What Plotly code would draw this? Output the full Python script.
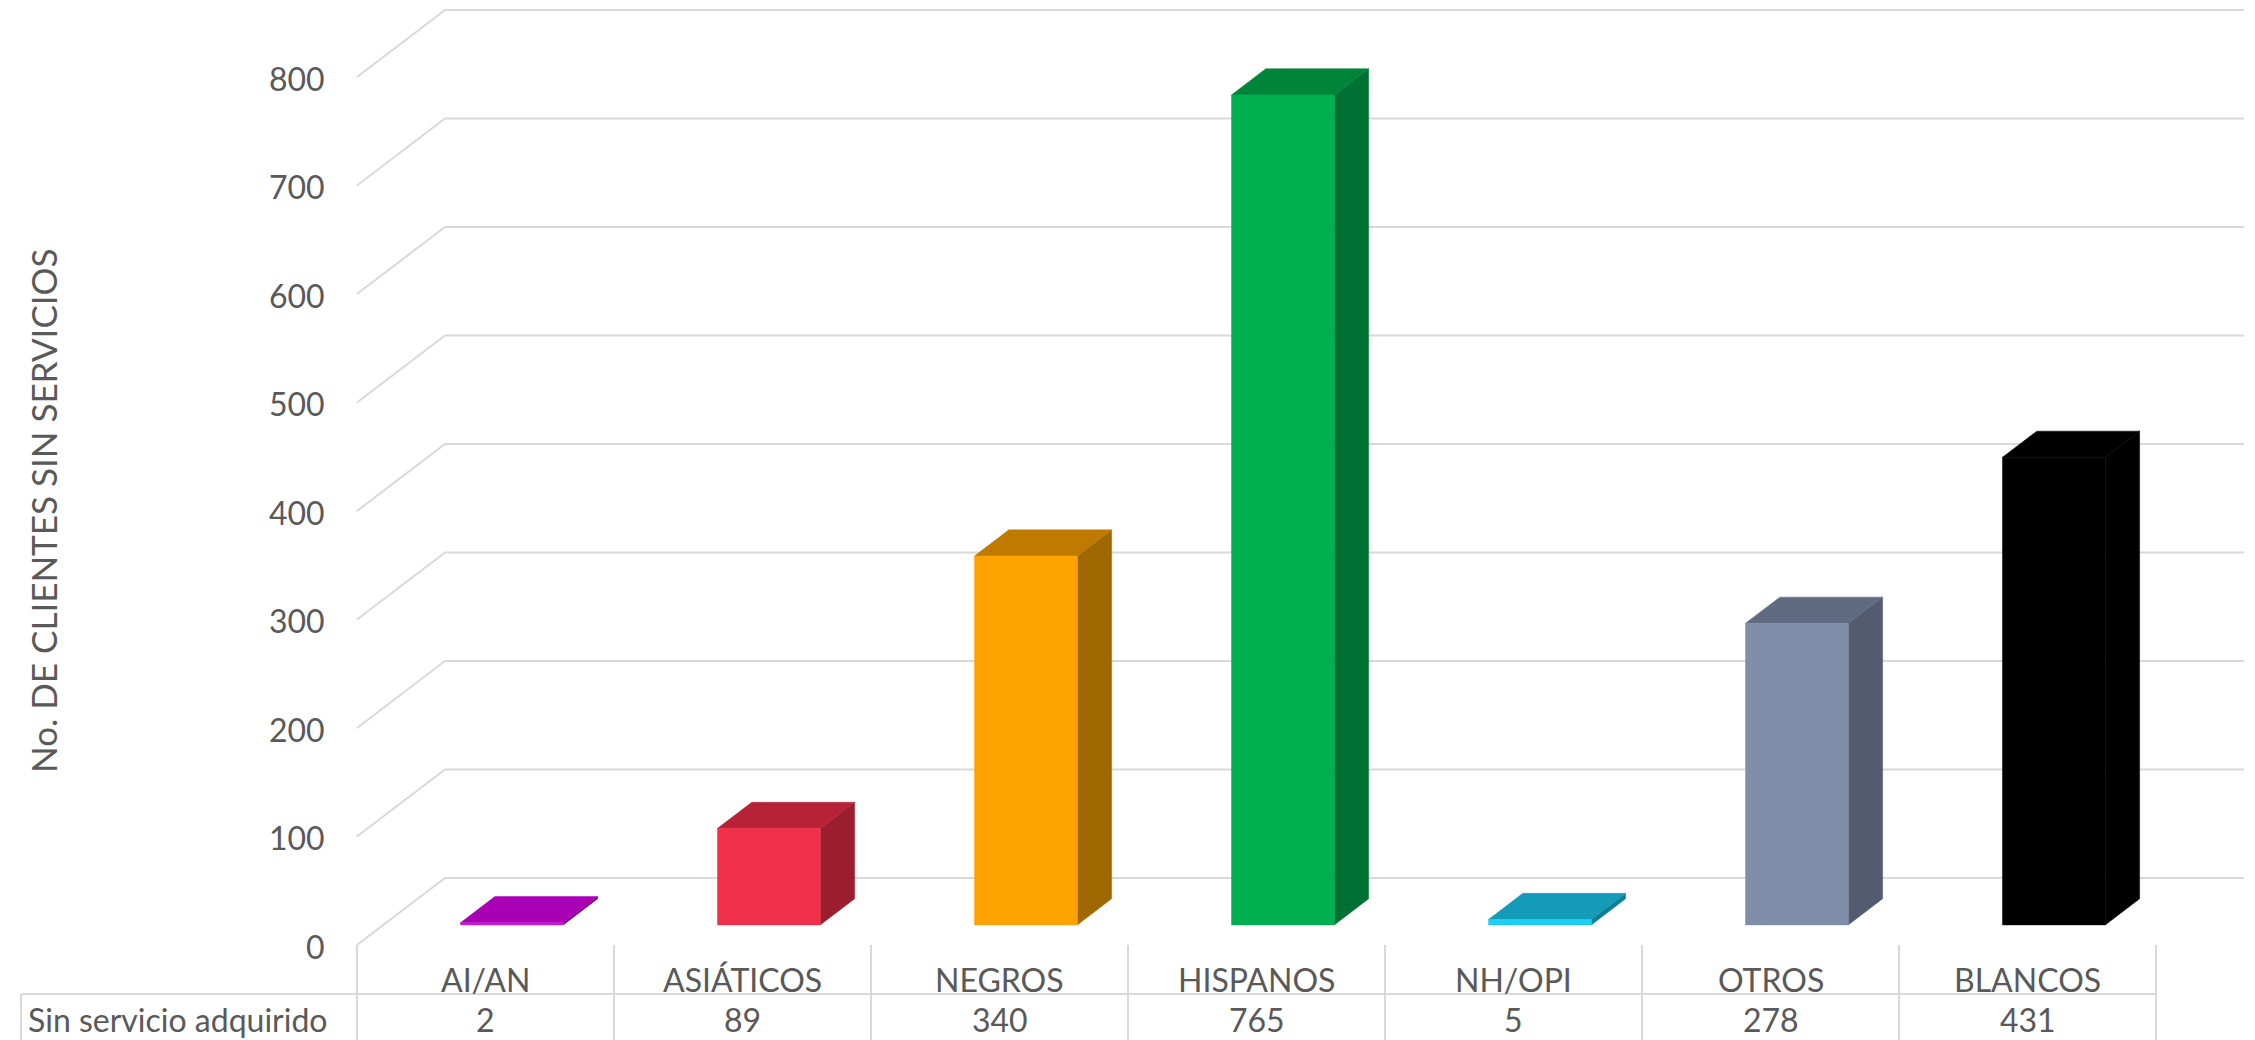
import plotly.graph_objects as go

# ---------------- data ----------------
categories = ["AI/AN", "ASIÁTICOS", "NEGROS", "HISPANOS", "NH/OPI", "OTROS", "BLANCOS"]
values = [2, 89, 340, 765, 5, 278, 431]
series_name = "Sin servicio adquirido"
y_ticks = [0, 100, 200, 300, 400, 500, 600, 700, 800]
y_title = "No. DE CLIENTES SIN SERVICIOS"
front_colors = ["#C21ED0", "#F0304A", "#FFA300", "#00B050", "#1DCFF0", "#7F8FA9", "#000000"]
top_colors = ["#AA00B5", "#B72236", "#C07A00", "#00843A", "#139BB8", "#5F6B80", "#000000"]
side_colors = ["#7A0082", "#9A1E2E", "#A06800", "#007033", "#0E7E95", "#525C6E", "#000000"]

# ---------------- geometry (data units) ----------------
W, H = 2255, 1040
PX_CAT = 257.0          # pixels per category
PX_UNIT = 1.085         # pixels per value unit
X0_PIX = 357.0          # pixel of left edge of category 0
Y0_PIX = 945.0          # pixel (from top) of value 0 at the front
DX = 88.0 / PX_CAT      # depth offset in category units
DY = 67.0 / PX_UNIT     # depth offset in value units
BAR_W = 0.40
D1, D2 = 0.30, 0.69

x_lo = -0.5 - X0_PIX / PX_CAT
x_hi = x_lo + W / PX_CAT
y_hi = Y0_PIX / PX_UNIT
y_lo = -(H - Y0_PIX) / PX_UNIT
n = len(categories)

GRID = "#D9D9D9"
TXT = "#595959"
FONT = "Lato"

def px_to_y(p):
    return (Y0_PIX - p) / PX_UNIT

def px_to_x(p):
    return (p - X0_PIX) / PX_CAT - 0.5

fig = go.Figure()

def line(xs, ys, color=GRID, width=2):
    fig.add_trace(go.Scatter(x=xs, y=ys, mode="lines", line=dict(color=color, width=width),
                             hoverinfo="skip", showlegend=False))

def poly(xs, ys, color):
    fig.add_trace(go.Scatter(x=xs + [xs[0]], y=ys + [ys[0]], mode="lines", fill="toself",
                             fillcolor=color, line=dict(color=color, width=0.5),
                             hoverinfo="skip", showlegend=False))

# back wall gridlines + left wall diagonals
for t in y_ticks:
    line([-0.5, -0.5 + DX, n - 0.5 + DX], [t, t + DY, t + DY])

# bars (oblique 3D)
for i, v in enumerate(values):
    xl = i - BAR_W / 2 + D1 * DX
    xr = i + BAR_W / 2 + D1 * DX
    b = D1 * DY
    ddx = (D2 - D1) * DX
    ddy = (D2 - D1) * DY
    poly([xr, xr + ddx, xr + ddx, xr], [b, b + ddy, b + v + ddy, b + v], side_colors[i])
    poly([xl, xr, xr + ddx, xl + ddx], [b + v, b + v, b + v + ddy, b + v + ddy], top_colors[i])
    poly([xl, xr, xr, xl], [b, b, b + v, b + v], front_colors[i])

# data table lines
y_row = px_to_y(994)
for k in range(n + 1):
    line([k - 0.5, k - 0.5], [0, y_lo])
line([px_to_x(21), n - 0.5], [y_row, y_row])
line([px_to_x(21), px_to_x(21)], [y_row, y_lo])

annotations = []
for t in y_ticks:
    annotations.append(dict(x=-0.5, y=t, xref="x", yref="y", text=str(t), showarrow=False,
                            xanchor="right", yanchor="middle", xshift=-30, yshift=-1,
                            font=dict(family=FONT, size=32, color=TXT)))
for i, (c, v) in enumerate(zip(categories, values)):
    annotations.append(dict(x=i, y=px_to_y(979), xref="x", yref="y", text=c, showarrow=False,
                            xanchor="center", yanchor="middle",
                            font=dict(family=FONT, size=32, color=TXT)))
    annotations.append(dict(x=i, y=px_to_y(1019), xref="x", yref="y", text=str(v), showarrow=False,
                            xanchor="center", yanchor="middle",
                            font=dict(family=FONT, size=32, color=TXT)))
annotations.append(dict(x=px_to_x(26), y=px_to_y(1019), xref="x", yref="y", text=series_name,
                        showarrow=False, xanchor="left", yanchor="middle",
                        font=dict(family=FONT, size=32, color=TXT)))
annotations.append(dict(x=px_to_x(43), y=px_to_y(511), xref="x", yref="y", text=y_title,
                        showarrow=False, textangle=-90, xanchor="center", yanchor="middle",
                        font=dict(family=FONT, size=35, color=TXT)))

fig.update_layout(
    width=W, height=H,
    margin=dict(l=0, r=0, t=0, b=0),
    paper_bgcolor="white", plot_bgcolor="white",
    xaxis=dict(range=[x_lo, x_hi], visible=False, fixedrange=True),
    yaxis=dict(range=[y_lo, y_hi], visible=False, fixedrange=True),
    annotations=annotations,
    showlegend=False,
)

fig.write_html("out.html", config={"displayModeBar": False},
               post_script="document.body.style.margin='0';document.body.style.overflow='hidden';")
